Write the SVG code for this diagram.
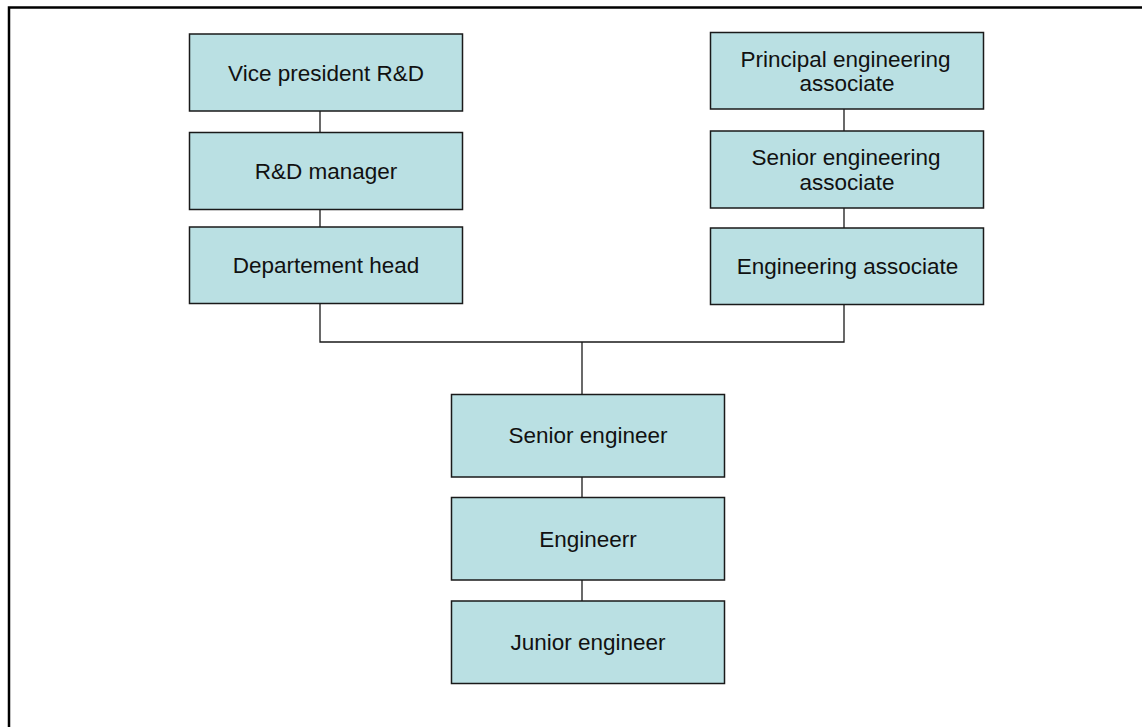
<svg xmlns="http://www.w3.org/2000/svg" width="1142" height="727" viewBox="0 0 1142 727">
<style>
.box{fill:#bae0e3;stroke:#1a1a1a;stroke-width:1.5}
.lbl{font-family:"Liberation Sans",Arial,sans-serif;font-size:22.5px;fill:#111;text-anchor:middle}
.con{fill:none;stroke:#1a1a1a;stroke-width:1.3}
.frame{fill:none;stroke:#000;stroke-width:2.5}
</style>
<rect width="1142" height="727" fill="#fff"/>
<path class="frame" d="M9,740 V7.5 H1150"/>
<g id="connectors">
<line class="con" x1="320" y1="111" x2="320" y2="132.5"/>
<line class="con" x1="320" y1="209.5" x2="320" y2="227"/>
<line class="con" x1="844" y1="109" x2="844" y2="131"/>
<line class="con" x1="844" y1="208" x2="844" y2="228"/>
<path class="con" d="M320,303.5 V342 H844 V304.5"/>
<line class="con" x1="582" y1="342" x2="582" y2="394.5"/>
<line class="con" x1="582" y1="477" x2="582" y2="497.5"/>
<line class="con" x1="582" y1="580" x2="582" y2="601"/>
</g>
<g id="vp">
<rect class="box" x="189.5" y="34" width="273" height="77"/>
<text class="lbl" x="326" y="80.5">Vice president R&amp;D</text>
</g>
<g id="rdm">
<rect class="box" x="189.5" y="132.5" width="273" height="77"/>
<text class="lbl" x="326" y="179">R&amp;D manager</text>
</g>
<g id="dh">
<rect class="box" x="189.5" y="227" width="273" height="76.5"/>
<text class="lbl" x="326" y="273">Departement head</text>
</g>
<g id="pea">
<rect class="box" x="710.5" y="32.5" width="273" height="76.5"/>
<text class="lbl" x="845.5" y="66.5">Principal engineering</text>
<text class="lbl" x="847" y="90.5">associate</text>
</g>
<g id="sea">
<rect class="box" x="710.5" y="131" width="273" height="77"/>
<text class="lbl" x="846" y="165">Senior engineering</text>
<text class="lbl" x="847" y="190">associate</text>
</g>
<g id="ea">
<rect class="box" x="710.5" y="228" width="273" height="76.5"/>
<text class="lbl" x="847.5" y="274">Engineering associate</text>
</g>
<g id="se">
<rect class="box" x="451.5" y="394.5" width="273" height="82.5"/>
<text class="lbl" x="588" y="443">Senior engineer</text>
</g>
<g id="eng">
<rect class="box" x="451.5" y="497.5" width="273" height="82.5"/>
<text class="lbl" x="588" y="547">Engineerr</text>
</g>
<g id="je">
<rect class="box" x="451.5" y="601" width="273" height="82.5"/>
<text class="lbl" x="588" y="650">Junior engineer</text>
</g>
</svg>
